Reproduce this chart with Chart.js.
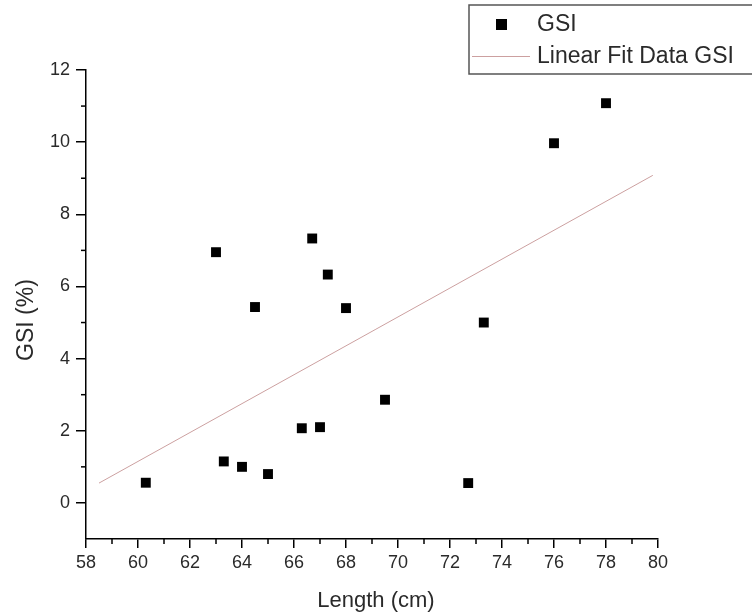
<!DOCTYPE html>
<html>
<head>
<meta charset="utf-8">
<script src="https://cdn.jsdelivr.net/npm/chart.js@4.4.1/dist/chart.umd.min.js"></script>
<style>
  html, body { margin: 0; padding: 0; background: #fff; }
  #wrap { width: 752px; height: 615px; position: relative; }
</style>
</head>
<body>
<div id="wrap"><canvas id="c" width="752" height="615"></canvas></div>
<script>
// Data
const lengthCm = [60.3, 63.0, 63.3, 64.0, 64.5, 65.0, 66.3, 66.7, 67.0, 67.3, 68.0, 69.5, 72.7, 73.3, 76.0, 78.0];
const gsiPct   = [0.56, 6.95, 1.15, 1.0, 5.43, 0.8, 2.07, 7.33, 2.1, 6.33, 5.4, 2.86, 0.55, 5.0, 9.97, 11.08];
const fitX = [58.5, 79.8];
const fitY = [0.55, 9.08];
const seriesLabels = ['GSI', 'Linear Fit Data GSI'];
const xTicks = [58, 60, 62, 64, 66, 68, 70, 72, 74, 76, 78, 80];
const yTicks = [0, 2, 4, 6, 8, 10, 12];
const xTitle = 'Length (cm)';
const yTitle = 'GSI (%)';

const FONT = '"Liberation Sans", Arial, sans-serif';
const TEXT = '#2a2a2a';
const fitColor = 'rgb(204,160,160)';

const minorTicks = {
  id: 'minorTicks',
  afterDraw(chart) {
    const ctx = chart.ctx;
    const xs = chart.scales.x, ys = chart.scales.y;
    ctx.save();
    ctx.strokeStyle = '#000';
    ctx.lineWidth = 1.5;
    for (let v = xs.min + 1; v < xs.max; v += 2) {
      const px = xs.getPixelForValue(v);
      ctx.beginPath(); ctx.moveTo(px, xs.top); ctx.lineTo(px, xs.top + 5); ctx.stroke();
    }
    for (let v = ys.min + 2; v < ys.max; v += 2) {
      const py = ys.getPixelForValue(v);
      ctx.beginPath(); ctx.moveTo(xs.left, py); ctx.lineTo(xs.left - 5, py); ctx.stroke();
    }
    ctx.restore();
  }
};

const axisTitles = {
  id: 'axisTitles',
  afterDraw(chart) {
    const ctx = chart.ctx;
    ctx.save();
    ctx.fillStyle = TEXT;
    ctx.textAlign = 'center';
    ctx.textBaseline = 'middle';
    ctx.font = '22px ' + FONT;
    ctx.fillText(xTitle, 376, 601);
    ctx.translate(27, 320);
    ctx.rotate(-Math.PI / 2);
    ctx.font = '23px ' + FONT;
    ctx.fillText(yTitle, 0, 0);
    ctx.restore();
  }
};

const boxLegend = {
  id: 'boxLegend',
  afterDraw(chart) {
    const ctx = chart.ctx;
    ctx.save();
    ctx.strokeStyle = '#555';
    ctx.lineWidth = 1.5;
    ctx.fillStyle = '#fff';
    ctx.fillRect(469, 5, 300, 69);
    ctx.strokeRect(469, 5, 300, 69);
    // marker
    ctx.fillStyle = '#000';
    ctx.fillRect(496, 19, 11, 11);
    // line sample
    ctx.strokeStyle = fitColor;
    ctx.lineWidth = 1;
    ctx.beginPath(); ctx.moveTo(472, 56.5); ctx.lineTo(530, 56.5); ctx.stroke();
    ctx.fillStyle = TEXT;
    ctx.font = '23px ' + FONT;
    ctx.textBaseline = 'middle';
    ctx.fillText(chart.data.datasets[0].label, 537, 25);
    ctx.fillText(chart.data.datasets[1].label, 537, 57);
    ctx.restore();
  }
};

new Chart(document.getElementById('c'), {
  type: 'scatter',
  data: {
    datasets: [
      {
        label: seriesLabels[0],
        data: lengthCm.map((x, i) => ({ x: x, y: gsiPct[i] })),
        pointStyle: 'rect',
        radius: 7,
        backgroundColor: '#000',
        borderColor: '#000',
        borderWidth: 0,
        order: 1
      },
      {
        label: seriesLabels[1],
        type: 'line',
        data: fitX.map((x, i) => ({ x: x, y: fitY[i] })),
        borderColor: fitColor,
        borderWidth: 1,
        pointRadius: 0,
        fill: false,
        order: 2
      }
    ]
  },
  options: {
    responsive: false,
    animation: false,
    events: [],
    layout: { padding: { top: 70, right: 94, left: 0, bottom: 0 } },
    plugins: { legend: { display: false }, tooltip: { enabled: false } },
    scales: {
      x: {
        type: 'linear', min: 58, max: 80,
        afterBuildTicks(s) { s.ticks = xTicks.map(v => ({ value: v })); },
        afterFit(s) { s.height = 76; },
        grid: { drawOnChartArea: false, drawTicks: true, tickLength: 9, color: '#000', lineWidth: 1.5 },
        border: { color: '#000', width: 1.5 },
        ticks: { color: TEXT, font: { family: FONT, size: 18 }, padding: 4, maxRotation: 0 },
        title: { display: false }
      },
      y: {
        type: 'linear', min: -1, max: 12,
        afterBuildTicks(s) { s.ticks = yTicks.map(v => ({ value: v })); },
        afterFit(s) { s.width = 86; },
        grid: { drawOnChartArea: false, drawTicks: true, tickLength: 10, color: '#000', lineWidth: 1.5 },
        border: { color: '#000', width: 1.5 },
        ticks: { color: TEXT, font: { family: FONT, size: 18 }, padding: 6 },
        title: { display: false }
      }
    }
  },
  plugins: [minorTicks, axisTitles, boxLegend]
});
</script>
</body>
</html>
